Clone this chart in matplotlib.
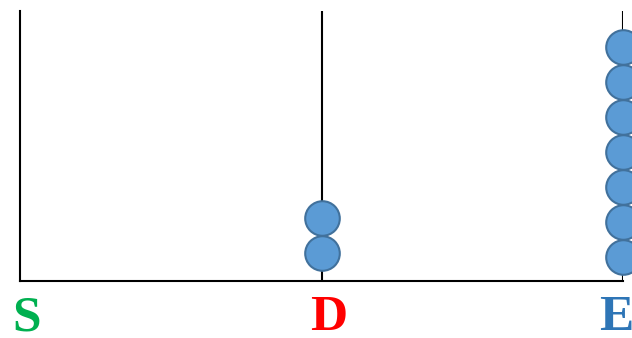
import matplotlib.pyplot as plt

stages = ['S', 'D', 'E']
counts = [0, 2, 7]
label_colors = ['#00b050', '#ff0000', '#2e75b6']

W, H = 632, 338
fig = plt.figure(figsize=(W / 100, H / 100), dpi=100)

# axes box in pixels: left line x=20, right line x=623, top y=11, baseline y=281
left, right, top, base = 20, 623, 11, 281
ax = fig.add_axes([left / W, 1 - base / H, (right - left) / W, (base - top) / H])
ax.set_xlim(0, len(stages) - 1)
ax.set_ylim(0, base - top)
ax.set_xticks([])
ax.set_yticks([])
for side in ['top', 'right']:
    ax.spines[side].set_visible(False)
for side in ['left', 'bottom']:
    ax.spines[side].set_linewidth(1.5)

for i in range(1, len(stages)):
    ax.axvline(i, color='black', lw=1.5, zorder=1)

# stacked circles, pixel units above the baseline
step = 35
bottom = [28, 28, 24]
for i, n in enumerate(counts):
    ys = [bottom[i] + k * step for k in range(n)]
    ax.scatter([i] * n, ys, s=620, color='#5b9bd5', edgecolor='#41719c',
               linewidth=1.5, zorder=3, clip_on=False)

# last label sits a bit left of its line
dx = [5, 5, -4.5]
for i, (name, c) in enumerate(zip(stages, label_colors)):
    ax.annotate(name, (i, 0), xytext=(dx[i], -35.5), textcoords='offset points',
                ha='center', va='baseline', color=c, fontsize=37,
                fontweight='bold', family='Liberation Serif', annotation_clip=False)

fig.savefig('out.png', dpi=100)
